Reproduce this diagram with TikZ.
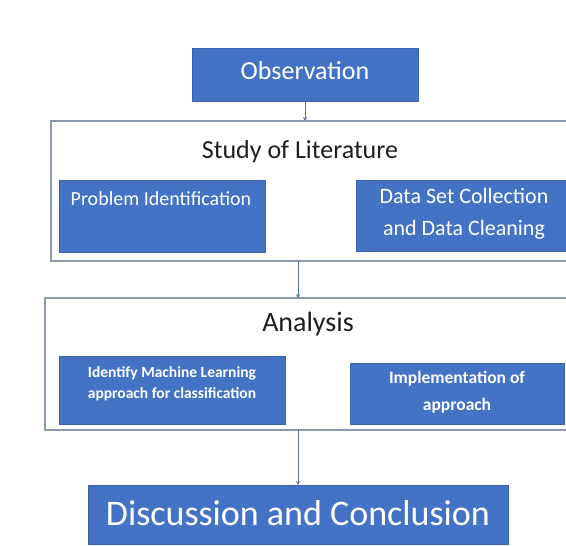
\documentclass[tikz,border=0pt]{standalone}
\usepackage{fontspec}
\setmainfont{Carlito}
\usetikzlibrary{arrows.meta}

\definecolor{boxblue}{RGB}{68,114,196}
\definecolor{boxedge}{RGB}{58,98,176}
\definecolor{framegray}{RGB}{140,152,172}
\definecolor{linkblue}{RGB}{88,116,164}
\definecolor{titlegray}{RGB}{30,30,30}

\tikzset{
  bluebox/.style={draw=boxedge, fill=boxblue, line width=0.8pt, inner sep=0pt, outer sep=0pt},
  frame/.style={draw=framegray, line width=1.2pt, inner sep=0pt, outer sep=0pt},
  boxtext/.style={text=white, align=center, inner sep=0pt},
  titletext/.style={text=titlegray, inner sep=0pt},
  flow/.style={draw=linkblue, line width=0.8pt, -{Stealth[length=4pt,width=4pt]}}
}

\begin{document}
\begin{tikzpicture}[x=1pt,y=1pt,yscale=-1]
\useasboundingbox (0,0) rectangle (566,546);
\clip (0,0) rectangle (566,546);

%Shape: Rectangle [observation]
\node [bluebox, minimum width=226pt, minimum height=53pt] (obs) at (305,74.5) {};
% Text Node
\node [boxtext, font=\fontsize{26}{30}\selectfont] (obstxt) at (305,71) {Observation};

%Shape: Rectangle [literature frame]
\node [frame, minimum width=549pt, minimum height=140pt] (lit) at (325.5,191) {};
% Text Node
\node [titletext, font=\fontsize{26}{30}\selectfont] (littxt) at (300,152) {Study of Literature};

%Shape: Rectangle [problem]
\node [bluebox, minimum width=206pt, minimum height=72pt] (prob) at (162,216) {};
% Text Node
\node [boxtext, font=\fontsize{20}{24}\selectfont] (probtxt) at (161,199) {Problem Identification};

%Shape: Rectangle [data set]
\node [bluebox, minimum width=216pt, minimum height=71pt] (data) at (464,215.5) {};
% Text Node
\node [boxtext, font=\fontsize{22}{32}\selectfont] (datatxt) at (464,214) {Data Set Collection\\and Data Cleaning};

%Shape: Rectangle [analysis frame]
\node [frame, minimum width=555pt, minimum height=132pt] (ana) at (322.5,364) {};
% Text Node
\node [titletext, font=\fontsize{28}{32}\selectfont] (anatxt) at (308,324) {Analysis};

%Shape: Rectangle [ml approach]
\node [bluebox, minimum width=226pt, minimum height=68pt] (ml) at (172,390) {};
% Text Node
\node [boxtext, font=\fontsize{15.5}{21}\selectfont\bfseries] (mltxt) at (172,383.5) {Identify Machine Learning\\approach for classification};

%Shape: Rectangle [implementation]
\node [bluebox, minimum width=214pt, minimum height=61pt] (impl) at (457,393.5) {};
% Text Node
\node [boxtext, font=\fontsize{17.5}{27}\selectfont\bfseries] (impltxt) at (457,392.5) {Implementation of\\approach};

%Shape: Rectangle [discussion]
\node [bluebox, minimum width=420pt, minimum height=59pt] (disc) at (298,514.5) {};
% Text Node
\node [boxtext, font=\fontsize{36}{40}\selectfont] (disctxt) at (298,513) {Discussion and Conclusion};

%Straight Lines [links]
\draw [flow] (obs) -- (obs |- lit.north);
\draw [flow] (lit.south -| disc.north) -- (ana.north -| disc.north);
\draw [flow] (ana.south -| disc.north) -- (disc.north);

\end{tikzpicture}
\end{document}
